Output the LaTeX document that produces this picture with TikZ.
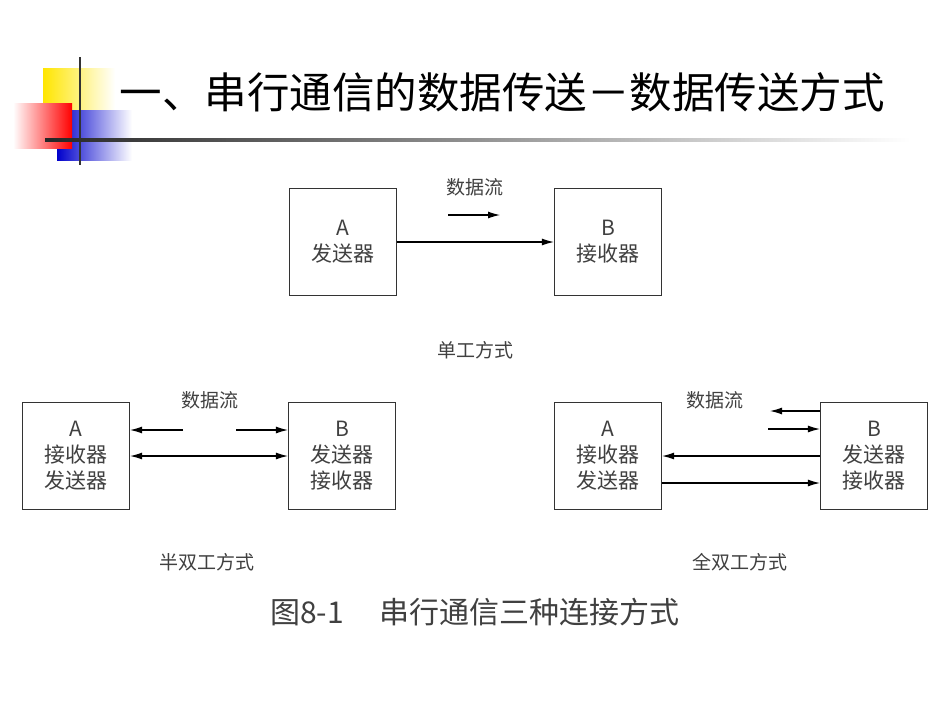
\documentclass[tikz,border=0pt]{standalone}
\usepackage{fontspec}
\newfontfamily\cjk{Noto Sans CJK SC}
\usetikzlibrary{arrows.meta}
\begin{document}
\begin{tikzpicture}[x=1pt,y=-1pt,
  box/.style={draw=black!80,line width=1.2pt,minimum width=107pt,minimum height=107pt,inner sep=0pt,align=center,font=\cjk\fontsize{21}{26}\selectfont,text=black!75},
  lbl/.style={font=\cjk\fontsize{19}{21}\selectfont,text=black!75},
  arr/.style={line width=1.1pt,-{Latex[length=12pt,width=7pt]}},
  darr/.style={line width=1.1pt,{Latex[length=12pt,width=7pt]}-{Latex[length=12pt,width=7pt]}}]
\useasboundingbox (0,0) rectangle (950,713);
\fill[white] (0,0) rectangle (950,713);
% logo
\shade[left color=yellow!80!orange,right color=white] (43,68) rectangle (115,112);
\shade[left color=blue!80!black,right color=white] (57,110) rectangle (132,160);
\shade[left color=white,right color=red] (13,103) rectangle (72,148);
\draw[line width=2pt,black!80] (80,57) -- (80,165);
\shade[left color=black!85,right color=white] (45,138.5) rectangle (910,141.5);
\node[font=\cjk\fontsize{42.5}{46}\selectfont,anchor=west] (title) at (116,92) {一、串行通信的数据传送－数据传送方式};
% simplex
\node[box] (sa) at (343,242) {A\\发送器};
\node[box] (sb) at (608,242) {B\\接收器};
\draw[arr] (sa) -- (sb);
\coordinate (s1) at (448,215); \coordinate (s2) at (500,215);
\draw[arr] (s1) -- (s2);
\node[lbl] (sl) at (475,187) {数据流};
\node[lbl] (sc) at (475,350) {单工方式};
% half duplex
\node[box] (ha) at (76,456) {A\\接收器\\发送器};
\node[box] (hb) at (342,456) {B\\发送器\\接收器};
\coordinate (h1) at (183,430); \coordinate (h2) at (236,430);
\draw[arr] (h1) -- (ha.east |- h1);
\draw[arr] (h2) -- (hb.west |- h2);
\draw[darr] (ha) -- (hb);
\node[lbl] (hl) at (210,400) {数据流};
\node[lbl] (hc) at (207,562) {半双工方式};
% full duplex
\node[box] (fa) at (608,456) {A\\接收器\\发送器};
\node[box] (fb) at (874,456) {B\\发送器\\接收器};
\coordinate (f1) at (770,411); \coordinate (f2) at (768,429);
\draw[arr] (fb.west |- f1) -- (f1);
\draw[arr] (f2) -- (fb.west |- f2);
\draw[arr] (fb.west |- 0,456) -- (fa.east |- 0,456);
\draw[arr] (fa.east |- 0,483) -- (fb.west |- 0,483);
\node[lbl] (fl) at (715,400) {数据流};
\node[lbl] (fc) at (740,562) {全双工方式};
\node[font=\cjk\fontsize{30}{32}\selectfont,text=black!75] (cap) at (475,612) {图8-1\hspace{1.2em}串行通信三种连接方式};
\end{tikzpicture}
\end{document}
